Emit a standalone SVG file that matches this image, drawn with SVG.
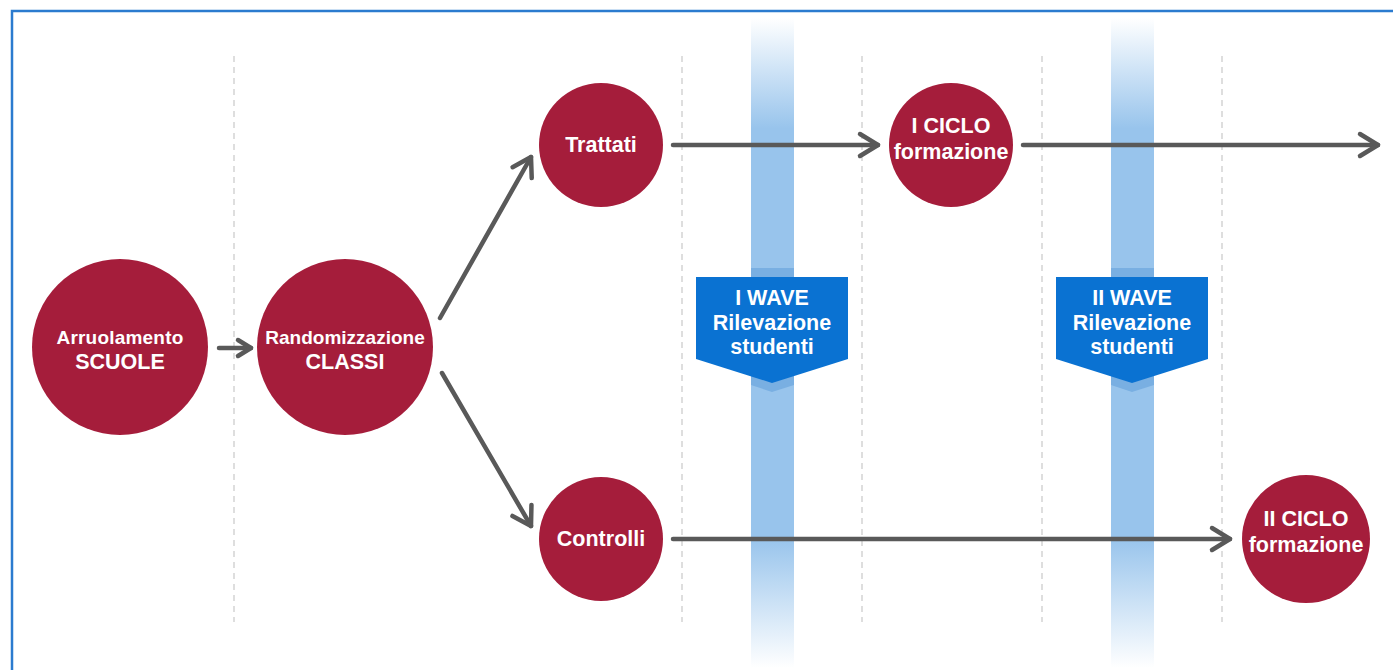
<svg xmlns="http://www.w3.org/2000/svg" width="1393" height="670" viewBox="0 0 1393 670">
  <defs>
    <linearGradient id="band" gradientUnits="userSpaceOnUse" x1="0" y1="18" x2="0" y2="668">
      <stop offset="0" stop-color="#98c4ec" stop-opacity="0"/>
      <stop offset="0.17" stop-color="#98c4ec" stop-opacity="1"/>
      <stop offset="0.8" stop-color="#98c4ec" stop-opacity="1"/>
      <stop offset="1" stop-color="#98c4ec" stop-opacity="0"/>
    </linearGradient>
    <marker id="head" markerUnits="userSpaceOnUse" viewBox="-24 -14 28 28" markerWidth="28" markerHeight="28" refX="0" refY="0" orient="auto" overflow="visible">
      <path d="M-18,-11 L0,0 L-18,11" fill="none" stroke="#595959" stroke-width="4.5" stroke-linecap="round" stroke-linejoin="round"/>
    </marker>
    <marker id="headS" markerUnits="userSpaceOnUse" viewBox="-20 -12 24 24" markerWidth="24" markerHeight="24" refX="0" refY="0" orient="auto" overflow="visible">
      <path d="M-13,-8 L0,0 L-13,8" fill="none" stroke="#595959" stroke-width="4.5" stroke-linecap="round" stroke-linejoin="round"/>
    </marker>
  </defs>
  <style>
    .frame { fill: #ffffff; stroke: #2b7bcf; stroke-width: 2.5; }
    .grid { stroke: #d3d3d3; stroke-width: 1.5; stroke-dasharray: 6 5; fill: none; }
    .band { fill: url(#band); }
    .bandDark { fill: #79afe2; }
    .callout { fill: #0a72d2; }
    .node { fill: #a51d3b; }
    .t { font-family: "Liberation Sans", Arial, sans-serif; font-weight: bold; fill: #ffffff; text-anchor: middle; }
    .m { font-size: 21.5px; }
    .conn { stroke: #595959; stroke-width: 4.5; fill: none; stroke-linecap: round; }
  </style>

  <rect class="frame" x="12" y="11" width="1400" height="700"/>

  <g id="grid">
    <line class="grid" x1="234" y1="56" x2="234" y2="622"/>
    <line class="grid" x1="682" y1="56" x2="682" y2="622"/>
    <line class="grid" x1="862" y1="56" x2="862" y2="622"/>
    <line class="grid" x1="1042" y1="56" x2="1042" y2="622"/>
    <line class="grid" x1="1222" y1="56" x2="1222" y2="622"/>
  </g>

  <g id="band1">
    <rect class="band" x="751" y="18" width="43" height="650"/>
    <polygon class="bandDark" points="751,268 794,268 794,385 772,392 751,385"/>
  </g>
  <g id="band2">
    <rect class="band" x="1111" y="18" width="43" height="650"/>
    <polygon class="bandDark" points="1111,268 1154,268 1154,385 1132,392 1111,385"/>
  </g>

  <g id="connectors">
    <line class="conn" x1="219" y1="348" x2="251" y2="348" marker-end="url(#headS)"/>
    <line class="conn" x1="440" y1="318" x2="531" y2="157" marker-end="url(#head)"/>
    <line class="conn" x1="442" y1="373" x2="531" y2="526" marker-end="url(#head)"/>
    <line class="conn" x1="673" y1="145" x2="878" y2="145" marker-end="url(#head)"/>
    <line class="conn" x1="1023" y1="145" x2="1378" y2="145" marker-end="url(#head)"/>
    <line class="conn" x1="673" y1="539" x2="1230" y2="539" marker-end="url(#head)"/>
  </g>

  <g id="wave1">
    <polygon class="callout" points="696,277 848,277 848,359 772,383 696,359"/>
    <text class="t m" x="772" y="305">I WAVE</text>
    <text class="t m" x="772" y="330">Rilevazione</text>
    <text class="t m" x="772" y="354">studenti</text>
  </g>
  <g id="wave2">
    <polygon class="callout" points="1056,277 1208,277 1208,359 1132,383 1056,359"/>
    <text class="t m" x="1132" y="305">II WAVE</text>
    <text class="t m" x="1132" y="330">Rilevazione</text>
    <text class="t m" x="1132" y="354">studenti</text>
  </g>

  <g id="arruolamento">
    <circle class="node" cx="120" cy="347" r="88"/>
    <text class="t" x="120" y="344" font-size="19" letter-spacing="0.2">Arruolamento</text>
    <text class="t" x="120" y="369" font-size="21.5">SCUOLE</text>
  </g>
  <g id="randomizzazione">
    <circle class="node" cx="345" cy="347" r="88"/>
    <text class="t" x="345" y="344" font-size="19">Randomizzazione</text>
    <text class="t" x="345" y="369" font-size="21.5">CLASSI</text>
  </g>
  <g id="trattati">
    <circle class="node" cx="601" cy="145" r="62"/>
    <text class="t m" x="601" y="152">Trattati</text>
  </g>
  <g id="controlli">
    <circle class="node" cx="601" cy="539" r="62"/>
    <text class="t m" x="601" y="546">Controlli</text>
  </g>
  <g id="ciclo1">
    <circle class="node" cx="951" cy="145" r="62"/>
    <text class="t m" x="951" y="133">I CICLO</text>
    <text class="t m" x="951" y="159">formazione</text>
  </g>
  <g id="ciclo2">
    <circle class="node" cx="1306" cy="539" r="64"/>
    <text class="t m" x="1306" y="526">II CICLO</text>
    <text class="t m" x="1306" y="552">formazione</text>
  </g>
</svg>
